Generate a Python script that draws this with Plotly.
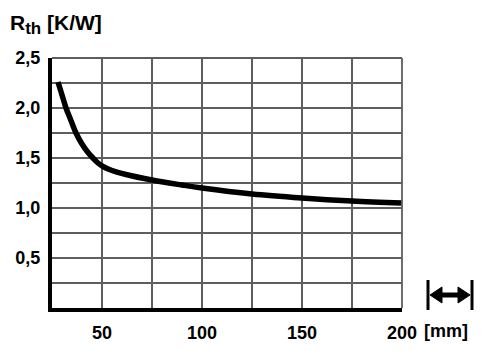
import plotly.graph_objects as go

# Data
length_mm = [28, 30, 32, 34, 37, 40, 43, 45.5, 48, 50.5, 55, 62, 75, 90, 100, 125, 150, 175, 200]
rth_kw = [2.26, 2.13, 2.00, 1.90, 1.75, 1.64, 1.555, 1.50, 1.45, 1.415, 1.375, 1.335, 1.28, 1.23, 1.20, 1.14, 1.10, 1.07, 1.05]

x_tickvals = [25, 50, 75, 100, 125, 150, 175, 200]
x_ticktext = ["", "50", "", "100", "", "150", "", "200"]
y_tickvals = [0, 0.25, 0.5, 0.75, 1.0, 1.25, 1.5, 1.75, 2.0, 2.25, 2.5]
y_ticktext = ["", "", "0,5", "", "1,0", "", "1,5", "", "2,0", "", "2,5"]

W, H = 487, 351
L, R, T, B = 52, 85, 58, 43
PW, PH = W - L - R, H - T - B

def px(xp):
    return (xp - L) / PW

def py(yp):
    return (H - B - yp) / PH

FONT = "Liberation Sans, Arial, sans-serif"

fig = go.Figure()
fig.add_trace(go.Scatter(
    x=length_mm, y=rth_kw, mode="lines",
    line=dict(color="black", width=5.5, shape="spline", smoothing=1.0),
    showlegend=False, hoverinfo="skip",
))

grid_col = "#5e5e5e"
fig.update_xaxes(
    range=[25, 200], tickvals=x_tickvals, ticktext=x_ticktext,
    showgrid=True, gridcolor=grid_col, gridwidth=1.8,
    showline=True, linecolor="black", linewidth=4,
    zeroline=False, ticks="", ticklabelstandoff=5, automargin=False,
    tickfont=dict(size=18, color="black", family=FONT, weight="bold"),
)
fig.update_yaxes(
    range=[0, 2.5], tickvals=y_tickvals, ticktext=y_ticktext,
    showgrid=True, gridcolor=grid_col, gridwidth=1.8,
    showline=True, linecolor="black", linewidth=4,
    zeroline=False, ticks="", ticklabelstandoff=4, automargin=False,
    tickfont=dict(size=18, color="black", family=FONT, weight="bold"),
)

shapes = []
# top and right border of the grid
shapes.append(dict(type="line", xref="paper", yref="paper", x0=0, x1=1, y0=1, y1=1,
                   line=dict(color=grid_col, width=1.8)))
shapes.append(dict(type="line", xref="paper", yref="paper", x0=1, x1=1, y0=0, y1=1,
                   line=dict(color=grid_col, width=1.8)))
# length symbol |<->|
for xb in (428, 472):
    shapes.append(dict(type="line", xref="paper", yref="paper",
                       x0=px(xb), x1=px(xb), y0=py(280), y1=py(310),
                       line=dict(color="black", width=3)))
shapes.append(dict(type="line", xref="paper", yref="paper",
                   x0=px(438), x1=px(462), y0=py(295), y1=py(295),
                   line=dict(color="black", width=5)))
left_head = f"M {px(430)} {py(295)} L {px(442)} {py(287)} L {px(442)} {py(303)} Z"
right_head = f"M {px(470)} {py(295)} L {px(458)} {py(287)} L {px(458)} {py(303)} Z"
for p in (left_head, right_head):
    shapes.append(dict(type="path", xref="paper", yref="paper", path=p,
                       fillcolor="black", line=dict(color="black", width=1)))

annotations = [
    dict(text="R<sub><span style='font-size:17px'>th</span></sub> [K/W]", xref="paper", yref="paper",
         x=px(8), y=py(24), xanchor="left", yanchor="middle", showarrow=False,
         font=dict(size=21, color="black", family=FONT, weight="bold")),
    dict(text="[mm]", xref="paper", yref="paper",
         x=px(422), y=py(331), xanchor="left", yanchor="middle", showarrow=False,
         font=dict(size=18, color="black", family=FONT, weight="bold")),
]

fig.update_layout(
    width=W, height=H,
    margin=dict(l=L, r=R, t=T, b=B, pad=0),
    paper_bgcolor="white", plot_bgcolor="white",
    shapes=shapes, annotations=annotations,
)

fig.write_html("out.html")
